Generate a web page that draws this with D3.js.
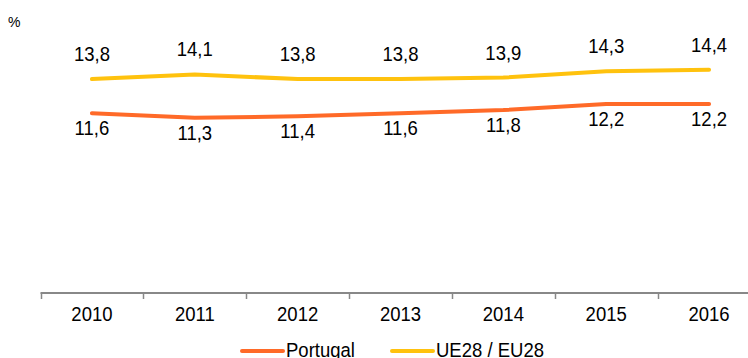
<!DOCTYPE html>
<html><head><meta charset="utf-8">
<script src="https://cdn.jsdelivr.net/npm/d3@7"></script>
<style>body{margin:0;background:#fff}svg{display:block}text{font-family:"Liberation Sans",Arial,sans-serif;fill:#000}</style>
</head><body><svg id="c" width="748" height="358"></svg>
<script>
const years = ["2010","2011","2012","2013","2014","2015","2016"];
const portugal = [11.6,11.3,11.4,11.6,11.8,12.2,12.2];
const eu28 = [13.8,14.1,13.8,13.8,13.9,14.3,14.4];
const seriesNames = ["Portugal","UE28 / EU28"];
const colors = ["#FF6A28","#FFC20E"];

const svg = d3.select("#c");
const x = d3.scaleBand().domain(years).range([40.5, 760.5]);
const y = d3.scaleLinear().domain([0,18]).range([293,14]);
const fmt = v => d3.format(".1f")(v).replace(".", ",");
const FS = 19.5;
const sx = 0.95;
function txt(g, xx, yy, s, size, anchor){
  return g.append("text").attr("transform",`translate(${xx},${yy}) scale(${sx},1)`)
    .attr("text-anchor",anchor||"middle").attr("font-size",size).text(s);
}

svg.append("text").attr("x",8).attr("y",27).attr("font-size",14).text("%");

// axis
const ax = svg.append("g").attr("transform","translate(0,293)");
ax.append("line").attr("x1",40.5).attr("x2",748).attr("stroke","#888").attr("stroke-width",2);
ax.selectAll("line.t").data(years).enter().append("line").attr("class","t")
  .attr("x1",d=>Math.round(x(d))+0.5).attr("x2",d=>Math.round(x(d))+0.5).attr("y1",0).attr("y2",6)
  .attr("stroke","#888").attr("stroke-width",1.5);
years.forEach(d=>txt(ax, x(d)+x.bandwidth()/2, 28, d, FS));

const cx = d => x(d)+x.bandwidth()/2;
const line = d3.line().x((d,i)=>cx(years[i])).y(d=>y(d));
[portugal, eu28].forEach((s,k)=>{
  svg.append("path").attr("d",line(s)).attr("fill","none").attr("stroke",colors[k])
    .attr("stroke-width",4).attr("stroke-linecap","round").attr("stroke-linejoin","round");
});
eu28.forEach((d,i)=>txt(svg, cx(years[i]), y(d)-18, fmt(d), FS));
portugal.forEach((d,i)=>txt(svg, cx(years[i]), y(d)+22, fmt(d), FS));

// legend
const lg = [{x:242},{x:392}];
seriesNames.forEach((n,k)=>{
  svg.append("line").attr("x1",lg[k].x).attr("x2",lg[k].x+41).attr("y1",351).attr("y2",351)
    .attr("stroke",colors[k]).attr("stroke-width",4).attr("stroke-linecap","round");
  txt(svg, lg[k].x+44, 357, n, FS, "start");
});
</script></body></html>
